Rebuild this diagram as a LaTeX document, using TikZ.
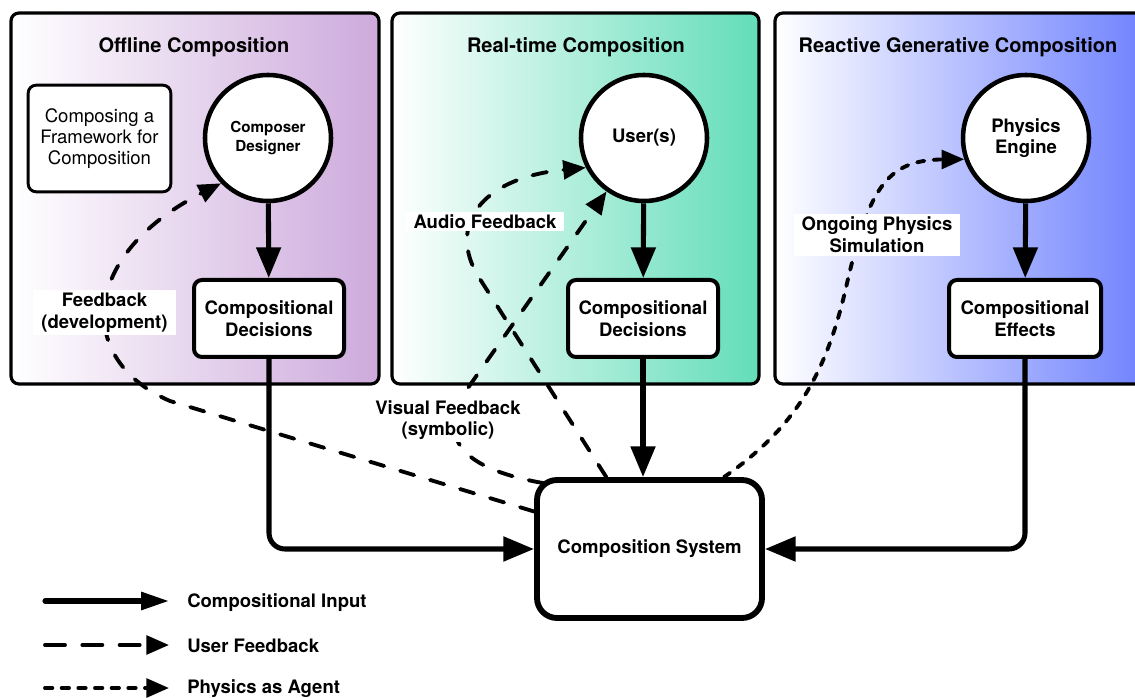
\documentclass[tikz,border=0pt]{standalone}
\usepackage{fontspec}
\setmainfont{TeX Gyre Heros}
\usetikzlibrary{arrows.meta,calc}

\definecolor{offlinecol}{HTML}{CDAADC}
\definecolor{realtimecol}{HTML}{62DDB8}
\definecolor{reactivecol}{HTML}{6A7DFE}

\tikzset{
  panel/.style={draw=black, line width=2.4pt, rounded corners=6pt, left color=white},
  paneltitle/.style={font=\bfseries\fontsize{15}{18}\selectfont},
  agent/.style={circle, draw=black, fill=white, line width=3.4pt, minimum size=94.5pt, inner sep=0pt,
    align=center, font=\bfseries\fontsize{13.9}{16.3}\selectfont},
  stage/.style={rectangle, rounded corners=6pt, draw=black, fill=white, line width=3pt,
    minimum width=112.5pt, minimum height=57.75pt, inner sep=0pt, align=center,
    font=\bfseries\fontsize{13.9}{16.3}\selectfont},
  tag/.style={fill=white, inner xsep=6pt, inner ysep=2pt, align=center,
    font=\bfseries\fontsize{13.9}{16.3}\selectfont},
  legendtext/.style={anchor=west, inner sep=0pt, font=\bfseries\fontsize{13.9}{16.3}\selectfont},
  inputarrow/.style={line width=3.8pt, -{Triangle[length=23pt, width=18pt]}},
  userarrow/.style={line width=2.9pt, line cap=round, dash pattern=on 11pt off 12.5pt,
    -{Triangle[length=17pt, width=14pt]}},
  physarrow/.style={line width=2.9pt, line cap=round, dash pattern=on 5.5pt off 7pt,
    -{Triangle[length=17pt, width=14pt]}},
}

\begin{document}
\begin{tikzpicture}[x=0.75pt, y=-0.75pt]
\clip (0,0) rectangle (1135,698);
\fill[white] (0,0) rectangle (1135,698);

% three composition panels
\path[panel, right color=offlinecol] (11,13) rectangle (379,384);
\path[panel, right color=realtimecol] (392,13) rectangle (759,384);
\path[panel, right color=reactivecol] (775,13) rectangle (1160,384);

\node[paneltitle] (t1) at (194,47) {Offline Composition};
\node[paneltitle] (t2) at (576,47) {Real-time Composition};
\node[paneltitle] (t3) at (958,47) {Reactive Generative Composition};

% offline panel
\node[rectangle, rounded corners=6pt, draw=black, fill=white, line width=2.2pt,
      minimum width=107pt, minimum height=80pt, align=center,
      font=\fontsize{13.9}{16}\selectfont] (fw) at (99.5,138.5)
      {Composing a\\Framework for\\Composition};
\node[agent, font=\bfseries\fontsize{11.4}{13.7}\selectfont] (cd) at (268,138) {Composer\\Designer};
\node[stage] (d1) at (269,318.5) {Compositional\\Decisions};

% real-time panel
\node[agent] (us) at (644,138) {User(s)};
\node[stage] (d2) at (643,318.5) {Compositional\\Decisions};

% reactive panel
\node[agent] (pe) at (1026,138) {Physics\\Engine};
\node[stage, minimum width=114pt] (fx) at (1025,318.5) {Compositional\\Effects};

% central system
\node[rectangle, rounded corners=15pt, draw=black, fill=white, line width=4.4pt,
      minimum width=168.75pt, minimum height=103.5pt,
      font=\bfseries\fontsize{13.9}{16.3}\selectfont] (cs) at (649.5,549) {Composition System};

% compositional input
\draw[inputarrow] (cd) -- (d1);
\draw[inputarrow] (us) -- (d2);
\draw[inputarrow] (pe) -- (fx);
\draw[inputarrow, rounded corners=12pt] (d1.south) |- (cs.west);
\draw[inputarrow] (d2.south) -- (d2.south |- cs.north);
\draw[inputarrow, rounded corners=12pt] (fx.south) |- (cs.east);

% user feedback loops
\draw[userarrow] (cs.162) -- (170,401) .. controls (75,360) and (80,255) .. (cd.224);
\draw[userarrow] (cs.121) -- (478,276) .. controls (448,226) and (480,178) .. (us.207);
\draw[userarrow] ([shift={(9,6)}]cs.north west) .. controls (470,470) and (442,445) .. (458,402) -- (us.235);

% physics as agent
\draw[physarrow] (cs.44) .. controls (795,428) and (825,375) .. (845,292)
  .. controls (868,190) and (885,160) .. (pe.199);

% connector labels
\node[tag] (lfb) at (104.5,312.5) {Feedback\\(development)};
\node[tag] (lau) at (485,221.5) {Audio Feedback};
\node[tag] (lvi) at (448,420) {Visual Feedback\\(symbolic)};
\node[tag] (lph) at (877,235) {Ongoing Physics\\Simulation};

% legend
\coordinate (ls1) at (45,601);
\coordinate (le1) at (169,601);
\coordinate (ls2) at (45,645);
\coordinate (le2) at (169,645);
\coordinate (ls3) at (45,688);
\coordinate (le3) at (169,688);
\draw[line width=3.8pt, line cap=round, -{Triangle[length=21pt, width=13pt]}] (ls1) -- (le1);
\draw[userarrow, dash pattern=on 15pt off 13pt] (ls2) -- (le2);
\draw[physarrow] (ls3) -- (le3);
\node[legendtext] (g1) at (187,603) {Compositional Input};
\node[legendtext] (g2) at (187,646) {User Feedback};
\node[legendtext] (g3) at (187,689) {Physics as Agent};
\end{tikzpicture}
\end{document}
